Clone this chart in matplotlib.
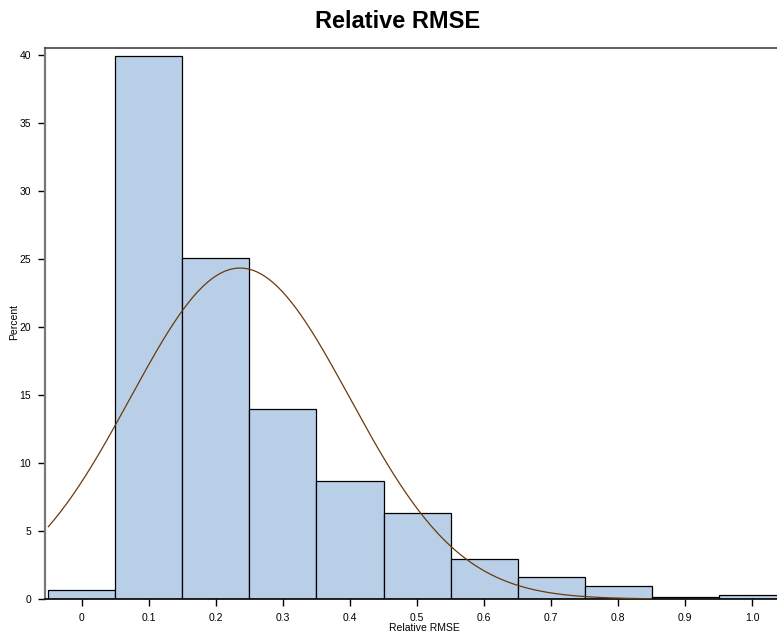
import numpy as np
import matplotlib
matplotlib.use("Agg")
import matplotlib.pyplot as plt

plt.rcParams['font.family'] = ['Liberation Sans', 'DejaVu Sans']

# Histogram of relative RMSE (bin midpoints, percent of observations)
bin_mids = [0.0, 0.1, 0.2, 0.3, 0.4, 0.5, 0.6, 0.7, 0.8, 0.9, 1.0]
percent = [0.65, 39.9, 25.05, 13.95, 8.7, 6.3, 2.95, 1.62, 0.95, 0.15, 0.28]
bin_width = 0.1
x_ticks = [0, 0.1, 0.2, 0.3, 0.4, 0.5, 0.6, 0.7, 0.8, 0.9, 1.0]
x_tick_labels = ['0', '0.1', '0.2', '0.3', '0.4', '0.5', '0.6', '0.7', '0.8', '0.9', '1.0']
y_ticks = [0, 5, 10, 15, 20, 25, 30, 35, 40]

# Fitted normal density parameters
mu = 0.236
sigma = 0.164

W, H = 777, 634
fig = plt.figure(figsize=(W / 100, H / 100), dpi=100)
x0, x1 = -0.055, 1.037
ax = fig.add_axes([45 / W, 35 / H, (W - 45) / W, (599 - 48) / H])

ax.bar(bin_mids, percent, width=bin_width, color='#B9CFE8',
       edgecolor='black', linewidth=0.9, zorder=2)

xs = np.linspace(-0.05, 0.85, 400)
dens = 100 * bin_width * np.exp(-(xs - mu) ** 2 / (2 * sigma ** 2)) / (sigma * np.sqrt(2 * np.pi))
ax.plot(xs, dens, color='#6B3A0A', linewidth=0.9, zorder=3)

ax.set_xlim(x0, x1)
ax.set_ylim(0, 40.5)
ax.set_xticks(x_ticks)
ax.set_xticklabels(x_tick_labels)
ax.set_yticks(y_ticks)
ax.tick_params(axis='both', direction='out', length=5, width=1, labelsize=7.5, colors='black', pad=5)

ax.spines['left'].set_color('#777777')
ax.spines['left'].set_linewidth(1.6)
ax.spines['top'].set_color('#444444')
ax.spines['top'].set_linewidth(1.2)
ax.spines['bottom'].set_linewidth(1.2)
ax.spines['right'].set_visible(False)

fig.text(424 / W, 1 - 628 / H, 'Relative RMSE', ha='center', va='center', fontsize=7.5)
fig.text(14 / W, 1 - 322 / H, 'Percent', ha='center', va='center', fontsize=7.5, rotation=90)
fig.text(398 / W, 1 - 21 / H, 'Relative RMSE', ha='center', va='center',
         fontsize=17, fontweight='bold')

fig.savefig('out.png', dpi=100)
